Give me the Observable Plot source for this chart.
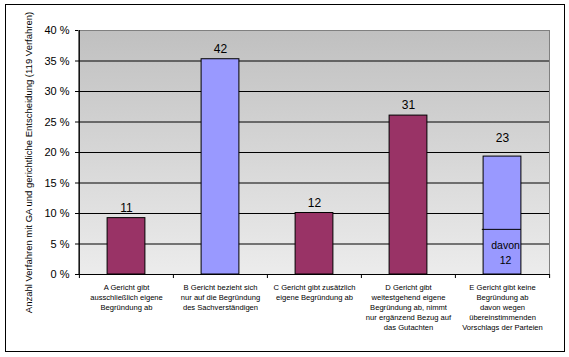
<!DOCTYPE html>
<html>
<head>
<meta charset="utf-8">
<script src="https://cdn.jsdelivr.net/npm/d3@7"></script>
<script src="https://cdn.jsdelivr.net/npm/@observablehq/plot@0.6"></script>
<style>
  html, body { margin: 0; padding: 0; background: white; }
  #chart svg { display: block; }
</style>
</head>
<body>
<div id="chart"></div>
<script>
// ---- data ----
const categories = ["A", "B", "C", "D", "E"];
const counts = [11, 42, 12, 31, 23];
const percents = [9.24, 35.29, 10.08, 26.05, 19.33];
const barColors = ["#993366", "#9999FF", "#993366", "#993366", "#9999FF"];
const categoryLabels = [
  "A Gericht gibt\nausschließlich eigene\nBegründung ab",
  "B Gericht bezieht sich\nnur auf die Begründung\ndes Sachverständigen",
  "C Gericht gibt zusätzlich\neigene Begründung ab",
  "D Gericht gibt\nweitestgehend eigene\nBegründung ab, nimmt\nnur ergänzend Bezug auf\ndas Gutachten",
  "E Gericht gibt keine\nBegründung ab\ndavon wegen\nübereinstimmenden\nVorschlags der Parteien"
];
const yTicks = [0, 5, 10, 15, 20, 25, 30, 35, 40];
const davonCategory = "E";
const davonCount = 12;
const davonPercent = 7.4;
const yTitle = "Anzahl Verfahren mit GA und gerichtliche Entscheidung (119 Verfahren)";

// ---- build ----
const data = categories.map((c, i) => ({cat: c, count: counts[i], pct: percents[i], color: barColors[i]}));
const davon = [{cat: davonCategory, count: davonCount, pct: davonPercent}];

const W = 569, H = 357, mL = 78, mR = 20, mT = 30, mB = 83;
const step = (W - mL - mR) / categories.length;
const inset = (step - 38) / 2;

const chart = Plot.plot({
  width: W, height: H,
  marginLeft: mL, marginRight: mR, marginTop: mT, marginBottom: mB,
  style: {fontFamily: "Arial, 'Liberation Sans', sans-serif", background: "white", color: "black", overflow: "visible"},
  x: {domain: categories, padding: 0},
  y: {domain: [0, 40]},
  color: {type: "identity"},
  marks: [
    Plot.frame({fill: "#c0c0c1", stroke: "#808080"}),
    Plot.ruleY(yTicks.filter(d => d > 0 && d < 40), {stroke: "black"}),
    Plot.ruleY([0], {stroke: "black"}),
    Plot.ruleX([categories[0]], {x: d => d, dx: -step / 2, y1: 0, y2: 40, stroke: "black"}),
    Plot.ruleX(categories, {x: d => d, dx: -step / 2, y1: 0, y2: -0.66, stroke: "black"}),
    Plot.ruleX([categories[categories.length - 1]], {x: d => d, dx: step / 2, y1: 0, y2: -0.66, stroke: "black"}),
    Plot.barY(data, {x: "cat", y: "pct", fill: "color", stroke: "black", strokeWidth: 1, insetLeft: inset, insetRight: inset}),
    Plot.tickY(davon, {x: "cat", y: "pct", stroke: "black", insetLeft: inset - 1.3, insetRight: inset}),
    Plot.text(data.filter(d => d.cat !== "E"), {x: "cat", y: "pct", text: d => String(d.count), dy: -10, fontSize: 12}),
    Plot.text(data.filter(d => d.cat === "E"), {x: "cat", y: "pct", text: d => String(d.count), dy: -18, fontSize: 12}),
    Plot.text(davon, {x: "cat", y: d => d.pct / 2, text: d => "davon\n" + d.count, dx: 3, fontSize: 10.5, lineHeight: 1.4}),
    Plot.axisY({ticks: yTicks, tickFormat: d => d + " %", tickSize: 3, tickPadding: 6, fontSize: 11, label: null}),
    Plot.axisX({tickSize: 0, tickPadding: 8, tickFormat: d => categoryLabels[categories.indexOf(d)], fontSize: 7.6, lineHeight: 1.33, label: null}),
    Plot.text([yTitle], {frameAnchor: "left", textAnchor: "middle", rotate: -90, dx: -50, dy: 10, fontSize: 9.5})
  ]
});

// gradient background for plot area + outer border
const svg = d3.select(chart);
const defs = svg.insert("defs", ":first-child");
const grad = defs.append("linearGradient").attr("id", "bggrad").attr("x1", 0).attr("y1", 0).attr("x2", 0).attr("y2", 1);
grad.append("stop").attr("offset", "0%").attr("stop-color", "#c0c0c0");
grad.append("stop").attr("offset", "100%").attr("stop-color", "#ececec");
svg.selectAll("[fill='#c0c0c1']").attr("fill", "url(#bggrad)");
svg.append("rect").attr("x", 5.5).attr("y", 4.5).attr("width", 559).attr("height", 347)
  .attr("fill", "none").attr("stroke", "black");

document.getElementById("chart").appendChild(chart);
</script>
</body>
</html>
